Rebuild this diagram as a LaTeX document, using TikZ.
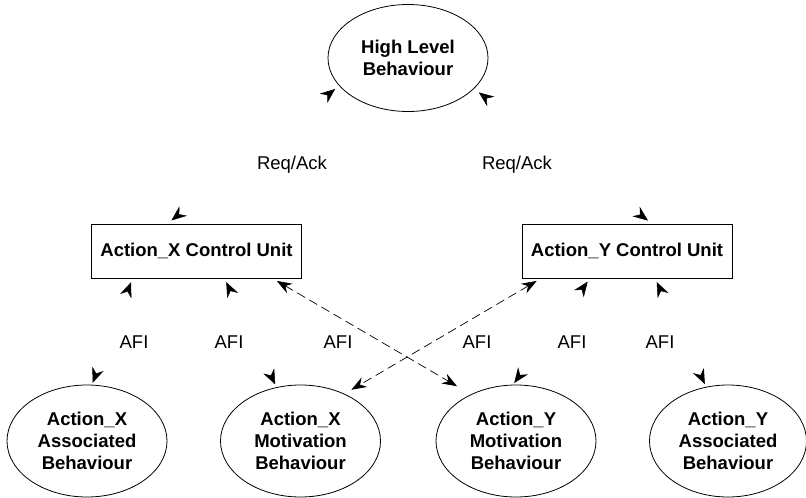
\documentclass[tikz,border=0pt]{standalone}
\usepackage{fontspec}
\setmainfont{Liberation Sans}
\usetikzlibrary{shapes.geometric,arrows.meta}

\begin{document}
\begin{tikzpicture}[x=1pt,y=-1pt,
  behav/.style={ellipse,draw,line width=.8pt,minimum width=160pt,minimum height=112pt,
    inner sep=0pt,align=center,font=\fontsize{18.5}{22}\selectfont\bfseries},
  unit/.style={rectangle,draw,line width=.8pt,minimum width=210pt,minimum height=54pt,
    font=\fontsize{18.5}{22}\selectfont\bfseries},
  lbl/.style={font=\fontsize{18.5}{22}\selectfont},
  link/.style={white,line width=.5pt,{Stealth[color=black,length=15pt,width=12pt,inset=5pt]}-{Stealth[color=black,length=15pt,width=12pt,inset=5pt]}},
  cross/.style={black,line width=.7pt,dash pattern=on 9pt off 5pt,{Stealth[length=15pt,width=11pt,inset=5pt]}-{Stealth[length=15pt,width=11pt,inset=5pt]}}]
 \useasboundingbox (0,0) rectangle (806,498);

 \node[behav,minimum height=107pt] (high) at (408,58) {High Level\\Behaviour};
 \node[unit] (xctrl) at (196.5,251) {Action\_X Control Unit};
 \node[unit] (yctrl) at (627,251) {Action\_Y Control Unit};
 \node[behav] (xassoc) at (87,441) {Action\_X\\Associated\\Behaviour};
 \node[behav] (xmot) at (300.5,441) {Action\_X\\Motivation\\Behaviour};
 \node[behav] (ymot) at (516,441) {Action\_Y\\Motivation\\Behaviour};
 \node[behav,minimum width=157pt] (yassoc) at (728,441) {Action\_Y\\Associated\\Behaviour};

 % request / acknowledge
 \draw[link,shorten <=5pt,shorten >=5pt] ([xshift=-29pt]xctrl.north) -- (high.202);
 \draw[link,shorten <=5pt,shorten >=6pt] ([xshift=25pt]yctrl.north) -- (high.335);
 \node[lbl] (reqx) at (292,165) {Req/Ack};
 \node[lbl] (reqy) at (517,165) {Req/Ack};

 % AFI links
 \draw[link,shorten <=4pt,shorten >=2pt] ([xshift=-64pt]xctrl.south) -- (xassoc.85);
 \draw[link,shorten <=4pt,shorten >=3pt] ([xshift=28pt]xctrl.south) -- (xmot.114);
 \draw[link,shorten <=4pt,shorten >=2pt] ([xshift=-37pt]yctrl.south) -- (ymot.93);
 \draw[link,shorten <=4pt,shorten >=3pt] ([xshift=28pt]yctrl.south) -- (yassoc.112);
 \draw[cross,shorten <=5pt,shorten >=16pt] ([xshift=76pt]xctrl.south) -- (ymot.134);
 \draw[cross,shorten <=5pt,shorten >=8pt] ([xshift=-86pt]yctrl.south) -- (xmot.47);
 \foreach \x [count=\i] in {134,229,338,477,572,660}
 {
     \node[lbl] (afi\i) at (\x,342) {AFI};
 }
\end{tikzpicture}
\end{document}
